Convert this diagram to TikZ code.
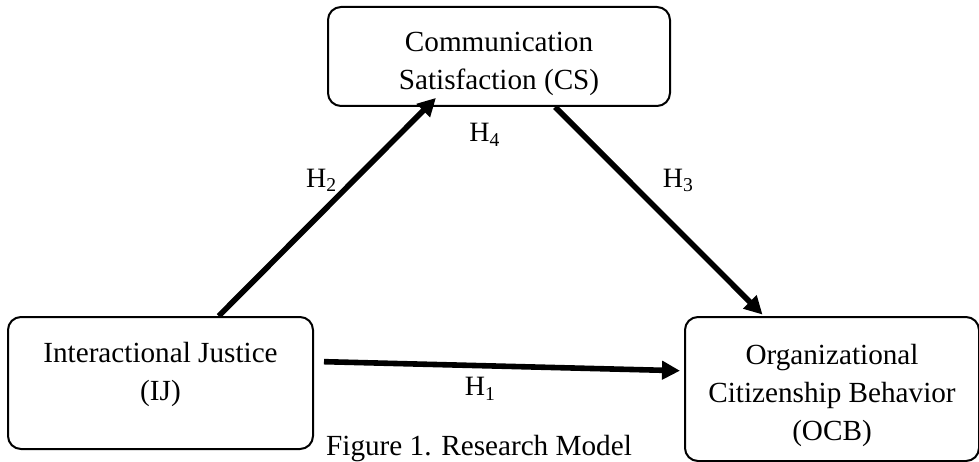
\documentclass[tikz,border=0pt]{standalone}
\usepackage{fontspec}
\setmainfont{Liberation Serif}
\usetikzlibrary{positioning, arrows.meta}

\begin{document}
\begin{tikzpicture}[x=1pt, y=1pt,
    > = {Triangle[length=9pt, width=9pt]},
    block/.style = {draw, line width=1pt, rounded corners=6.5pt,
        inner sep=0pt},
    boxtext/.style = {align=center, inner sep=0pt,
        font=\fontsize{14.6}{19}\selectfont},
    link/.style = {->, line width=2.8pt},
    hyp/.style = {inner sep=0pt, font=\fontsize{14}{16}\selectfont}
]
    \useasboundingbox (0,0) rectangle (489.5,230.5);

    \node [block,
        minimum width=171pt,
        minimum height=49.5pt
    ] (cs) at (249.5,202.25) {};

    \node [block,
        minimum width=152.5pt,
        minimum height=66pt,
        below left=104.5pt and 6.5pt of cs
    ] (ij) {};

    \node [block,
        minimum width=147pt,
        minimum height=72pt,
        below right=104.5pt and 6.5pt of cs
    ] (ocb) {};

    % box texts
    \node [boxtext] (cs-text) at ([yshift=-3.9pt]cs.center)
        {Communication\\Satisfaction (CS)};
    \node [boxtext] (ij-text) at ([yshift=4.5pt]ij.center)
        {Interactional Justice\\(IJ)};
    \node [boxtext] (ocb-text) at ([yshift=-3pt]ocb.center)
        {Organizational\\Citizenship Behavior\\(OCB)};

    % hypotheses
    \draw [link, shorten >=-6.4pt] (ij.49) -- (cs.215)
        node [hyp, pos=0.65, left=7pt] (h2) {H\textsubscript{2}};
    \draw [link, shorten >=1pt] (cs.318) -- (ocb.133)
        node [hyp, pos=0.35, right=16pt] (h3) {H\textsubscript{3}};
    \draw [link, shorten <=5pt, shorten >=2pt] (ij.8) -- (ocb.173)
        node [hyp, pos=0.45, below=4.5pt] (h1) {H\textsubscript{1}};

    \node [hyp, below=8pt of cs, xshift=-7pt] (h4) {H\textsubscript{4}};

    % caption
    \node [anchor=base, inner sep=0pt, font=\fontsize{14.6}{17}\selectfont]
        (caption) at (239.5,3) {Figure 1. Research Model};
\end{tikzpicture}
\end{document}
